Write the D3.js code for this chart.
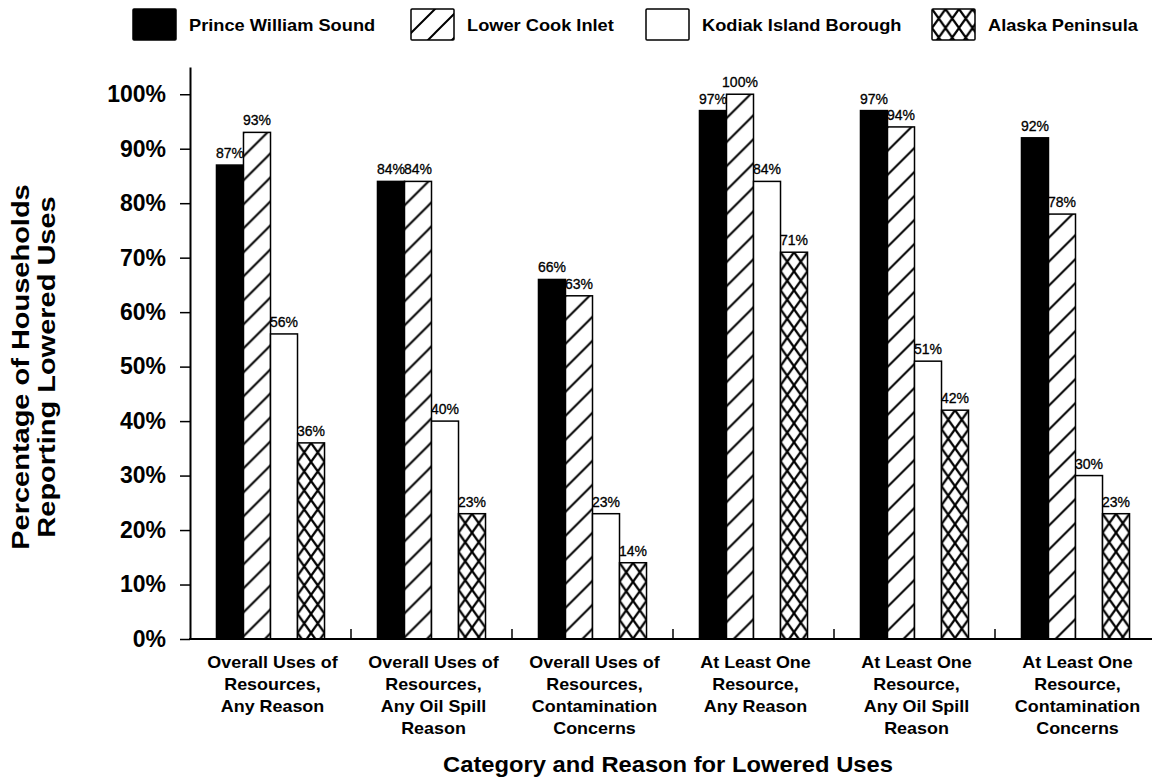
<!DOCTYPE html>
<html><head><meta charset="utf-8">
<script src="https://cdn.jsdelivr.net/npm/d3@7"></script>
<style>body{margin:0;background:#fff}svg{display:block}text{font-family:"Liberation Sans",Arial,sans-serif}</style>
</head><body>
<script>
const categories = [
  ["Overall Uses of","Resources,","Any Reason"],
  ["Overall Uses of","Resources,","Any Oil Spill","Reason"],
  ["Overall Uses of","Resources,","Contamination","Concerns"],
  ["At Least One","Resource,","Any Reason"],
  ["At Least One","Resource,","Any Oil Spill","Reason"],
  ["At Least One","Resource,","Contamination","Concerns"]
];
const series = ["Prince William Sound","Lower Cook Inlet","Kodiak Island Borough","Alaska Peninsula"];
const princeWilliam = [87,84,66,97,97,92];
const lowerCook = [93,84,63,100,94,78];
const kodiak = [56,40,23,84,51,30];
const alaskaPen = [36,23,14,71,42,23];
const yTicks = [0,10,20,30,40,50,60,70,80,90,100];
const valuesBySeries = [princeWilliam, lowerCook, kodiak, alaskaPen];

const W=1152,H=778;
const svg=d3.select("body").append("svg").attr("width",W).attr("height",H);
const defs=svg.append("defs");

const x=d3.scaleBand().domain(d3.range(categories.length)).range([190,1156]).paddingInner(0).paddingOuter(0);
const xs=d3.scaleBand().domain(d3.range(series.length)).range([0,x.bandwidth()]).paddingInner(0).paddingOuter(0.98);
const y=d3.scaleLinear().domain([0,105]).range([639,67]);

let pid=0;
function makeFill(s, bx, by){
  if(s===0) return "#000";
  if(s===2) return "#fff";
  const id="p"+(pid++);
  if(s===1){
    const p=defs.append("pattern").attr("id",id).attr("patternUnits","userSpaceOnUse")
      .attr("x",bx).attr("y",by).attr("width",24).attr("height",24);
    p.append("rect").attr("width",24).attr("height",24).attr("fill","#fff");
    p.append("path").attr("d","M-2,26 L26,-2 M-6,6 L6,-6 M18,30 L30,18").attr("stroke","#000").attr("stroke-width",2);
  } else {
    const w=13.5,h=19;
    const p=defs.append("pattern").attr("id",id).attr("patternUnits","userSpaceOnUse")
      .attr("x",bx).attr("y",by).attr("width",w).attr("height",h);
    p.append("rect").attr("width",w).attr("height",h).attr("fill","#fff");
    p.append("path").attr("d",`M0,0 L${w},${h} M${w},0 L0,${h}`).attr("stroke","#000").attr("stroke-width",2.2);
  }
  return `url(#${id})`;
}

// bars
const bars=[];
valuesBySeries.forEach((vals,s)=>vals.forEach((v,c)=>bars.push({s,c,v})));
const g=svg.append("g");
bars.forEach(d=>{
  const bx=x(d.c)+xs(d.s), by=y(d.v), bw=xs.bandwidth(), bh=y(0)-y(d.v);
  g.append("rect").attr("x",bx).attr("y",by).attr("width",bw).attr("height",bh)
    .attr("fill",makeFill(d.s,bx,by)).attr("stroke","#000").attr("stroke-width",1.5);
  g.append("text").attr("x",bx+bw/2).attr("y",by-7).attr("text-anchor","middle")
    .attr("font-size",14).attr("stroke","#000").attr("stroke-width",0.3).text(d.v+"%");
});

// y axis
const yAxis=svg.append("g").attr("transform","translate(190,0)")
  .call(d3.axisLeft(y).tickValues(yTicks).tickFormat(d=>d+"%").tickSize(10).tickSizeOuter(0));
yAxis.select(".domain").attr("stroke-width",2);
yAxis.selectAll(".tick line").attr("stroke-width",1.5);
yAxis.selectAll(".tick text").attr("font-size",23).attr("font-weight","bold").attr("x",-24)
  .attr("font-family","'Liberation Sans',Arial,sans-serif");

// x axis
const xAxis=svg.append("g").attr("transform","translate(0,639)");
xAxis.append("line").attr("x1",189).attr("x2",W).attr("y1",0).attr("y2",0).attr("stroke","#000").attr("stroke-width",2);
xAxis.selectAll(".sep").data(d3.range(1,categories.length)).join("line")
  .attr("x1",d=>x(d)).attr("x2",d=>x(d)).attr("y1",0).attr("y2",-10).attr("stroke","#000").attr("stroke-width",1.5);
const catG=xAxis.selectAll(".cat").data(categories).join("text")
  .attr("transform",(d,i)=>`translate(${x(i)+x.bandwidth()/2+2},29) scale(1.12,1)`)
  .attr("text-anchor","middle").attr("font-size",16).attr("font-weight","bold");
catG.each(function(lines){
  d3.select(this).selectAll("tspan").data(lines).join("tspan").attr("x",0).attr("dy",(d,i)=>i===0?0:22).text(d=>d);
});

// axis titles
svg.append("text").attr("transform","translate(668,772) scale(1.08,1)").attr("text-anchor","middle")
  .attr("font-size",22).attr("font-weight","bold").text("Category and Reason for Lowered Uses");
svg.append("text").attr("transform","translate(29,367) rotate(-90) scale(1.26,1)").attr("text-anchor","middle")
  .attr("font-size",23).attr("font-weight","bold").text("Percentage of Households");
svg.append("text").attr("transform","translate(55,367) rotate(-90) scale(1.26,1)").attr("text-anchor","middle")
  .attr("font-size",23).attr("font-weight","bold").text("Reporting Lowered Uses");

// legend
const legX=[133,411,646,932];
series.forEach((name,s)=>{
  const bx=legX[s], by=9;
  svg.append("rect").attr("x",bx).attr("y",by).attr("width",43).attr("height",31)
    .attr("fill",makeFill(s,bx,by)).attr("stroke","#000").attr("stroke-width",1.5).attr("rx",1);
  svg.append("text").attr("transform",`translate(${bx+56},31) scale(1.14,1)`)
    .attr("font-size",16).attr("font-weight","bold").text(name);
});
</script>
</body></html>
